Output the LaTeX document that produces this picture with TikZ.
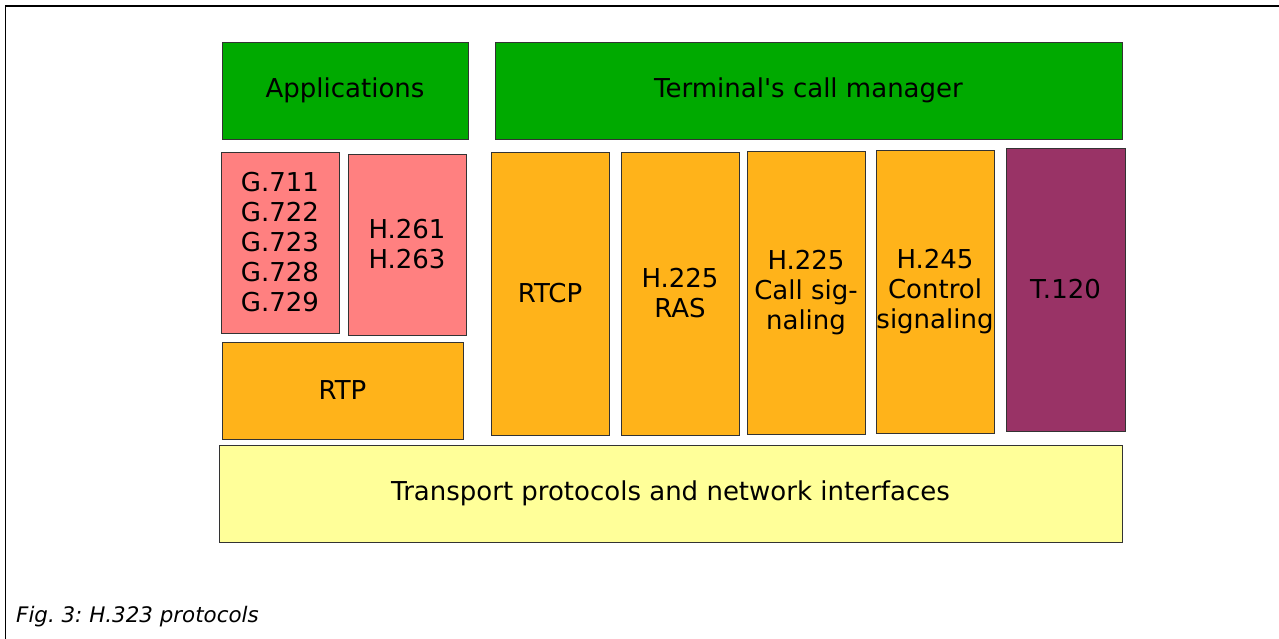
\documentclass[tikz,border=0pt]{standalone}
\usepackage{fontspec}
\setmainfont{DejaVu Sans}[ItalicFont={DejaVu Sans Oblique}]
\definecolor{appgreen}{HTML}{00AA00}
\definecolor{codecpink}{HTML}{FF8080}
\definecolor{sigorange}{HTML}{FFB31A}
\definecolor{dataplum}{HTML}{993366}
\definecolor{netyellow}{HTML}{FFFF99}
\begin{document}
\begin{tikzpicture}[x=1pt, y=-1pt, font=\fontsize{26}{30}\selectfont,
    blk/.style={draw=black!80, line width=.8pt, inner sep=0pt, align=center}]
    \useasboundingbox (0,0) rectangle (1279,639);
    \draw[line width=1.2pt] (5.5,639)--(5.5,6)--(1279,6);
    % top row
    \node (app) at (345,90.5)[blk, fill=appgreen, minimum width=246pt, minimum height=97pt]{Applications};
    \node (mgr) at (808.5,90.5)[blk, fill=appgreen, minimum width=627pt, minimum height=97pt]{Terminal\textquotesingle s call manager};
    % codecs
    \node (audio) at (280,242.5)[blk, fill=codecpink, minimum width=118pt, minimum height=181pt]{G.711\\G.722\\G.723\\G.728\\G.729};
    \node (video) at (407,244.5)[blk, fill=codecpink, minimum width=118pt, minimum height=181pt]{H.261\\H.263};
    \node (rtp) at (342.5,390.5)[blk, fill=sigorange, minimum width=241pt, minimum height=97pt]{RTP};
    % signaling columns
    \node (rtcp) at (550,293.5)[blk, fill=sigorange, minimum width=118pt, minimum height=283pt]{RTCP};
    \node (ras) at (680,293.5)[blk, fill=sigorange, minimum width=118pt, minimum height=283pt]{H.225\\RAS};
    \node (call) at (806,292.5)[blk, fill=sigorange, minimum width=118pt, minimum height=283pt]{H.225\\Call sig-\\naling};
    \node (ctrl) at (935,291.5)[blk, fill=sigorange, minimum width=118pt, minimum height=283pt]{H.245\\Control\\signaling};
    \node (data) at (1065.5,289.5)[blk, fill=dataplum, minimum width=119pt, minimum height=283pt]{T.120};
    % bottom
    \node (net) at (670.5,493.5)[blk, fill=netyellow, minimum width=903pt, minimum height=97pt]{Transport protocols and network interfaces};
    \node (cap) at (16,622)[anchor=base west, inner sep=0pt, font=\fontsize{21.4}{25}\selectfont\itshape\frenchspacing]{Fig. 3: H.323 protocols};
\end{tikzpicture}
\end{document}
